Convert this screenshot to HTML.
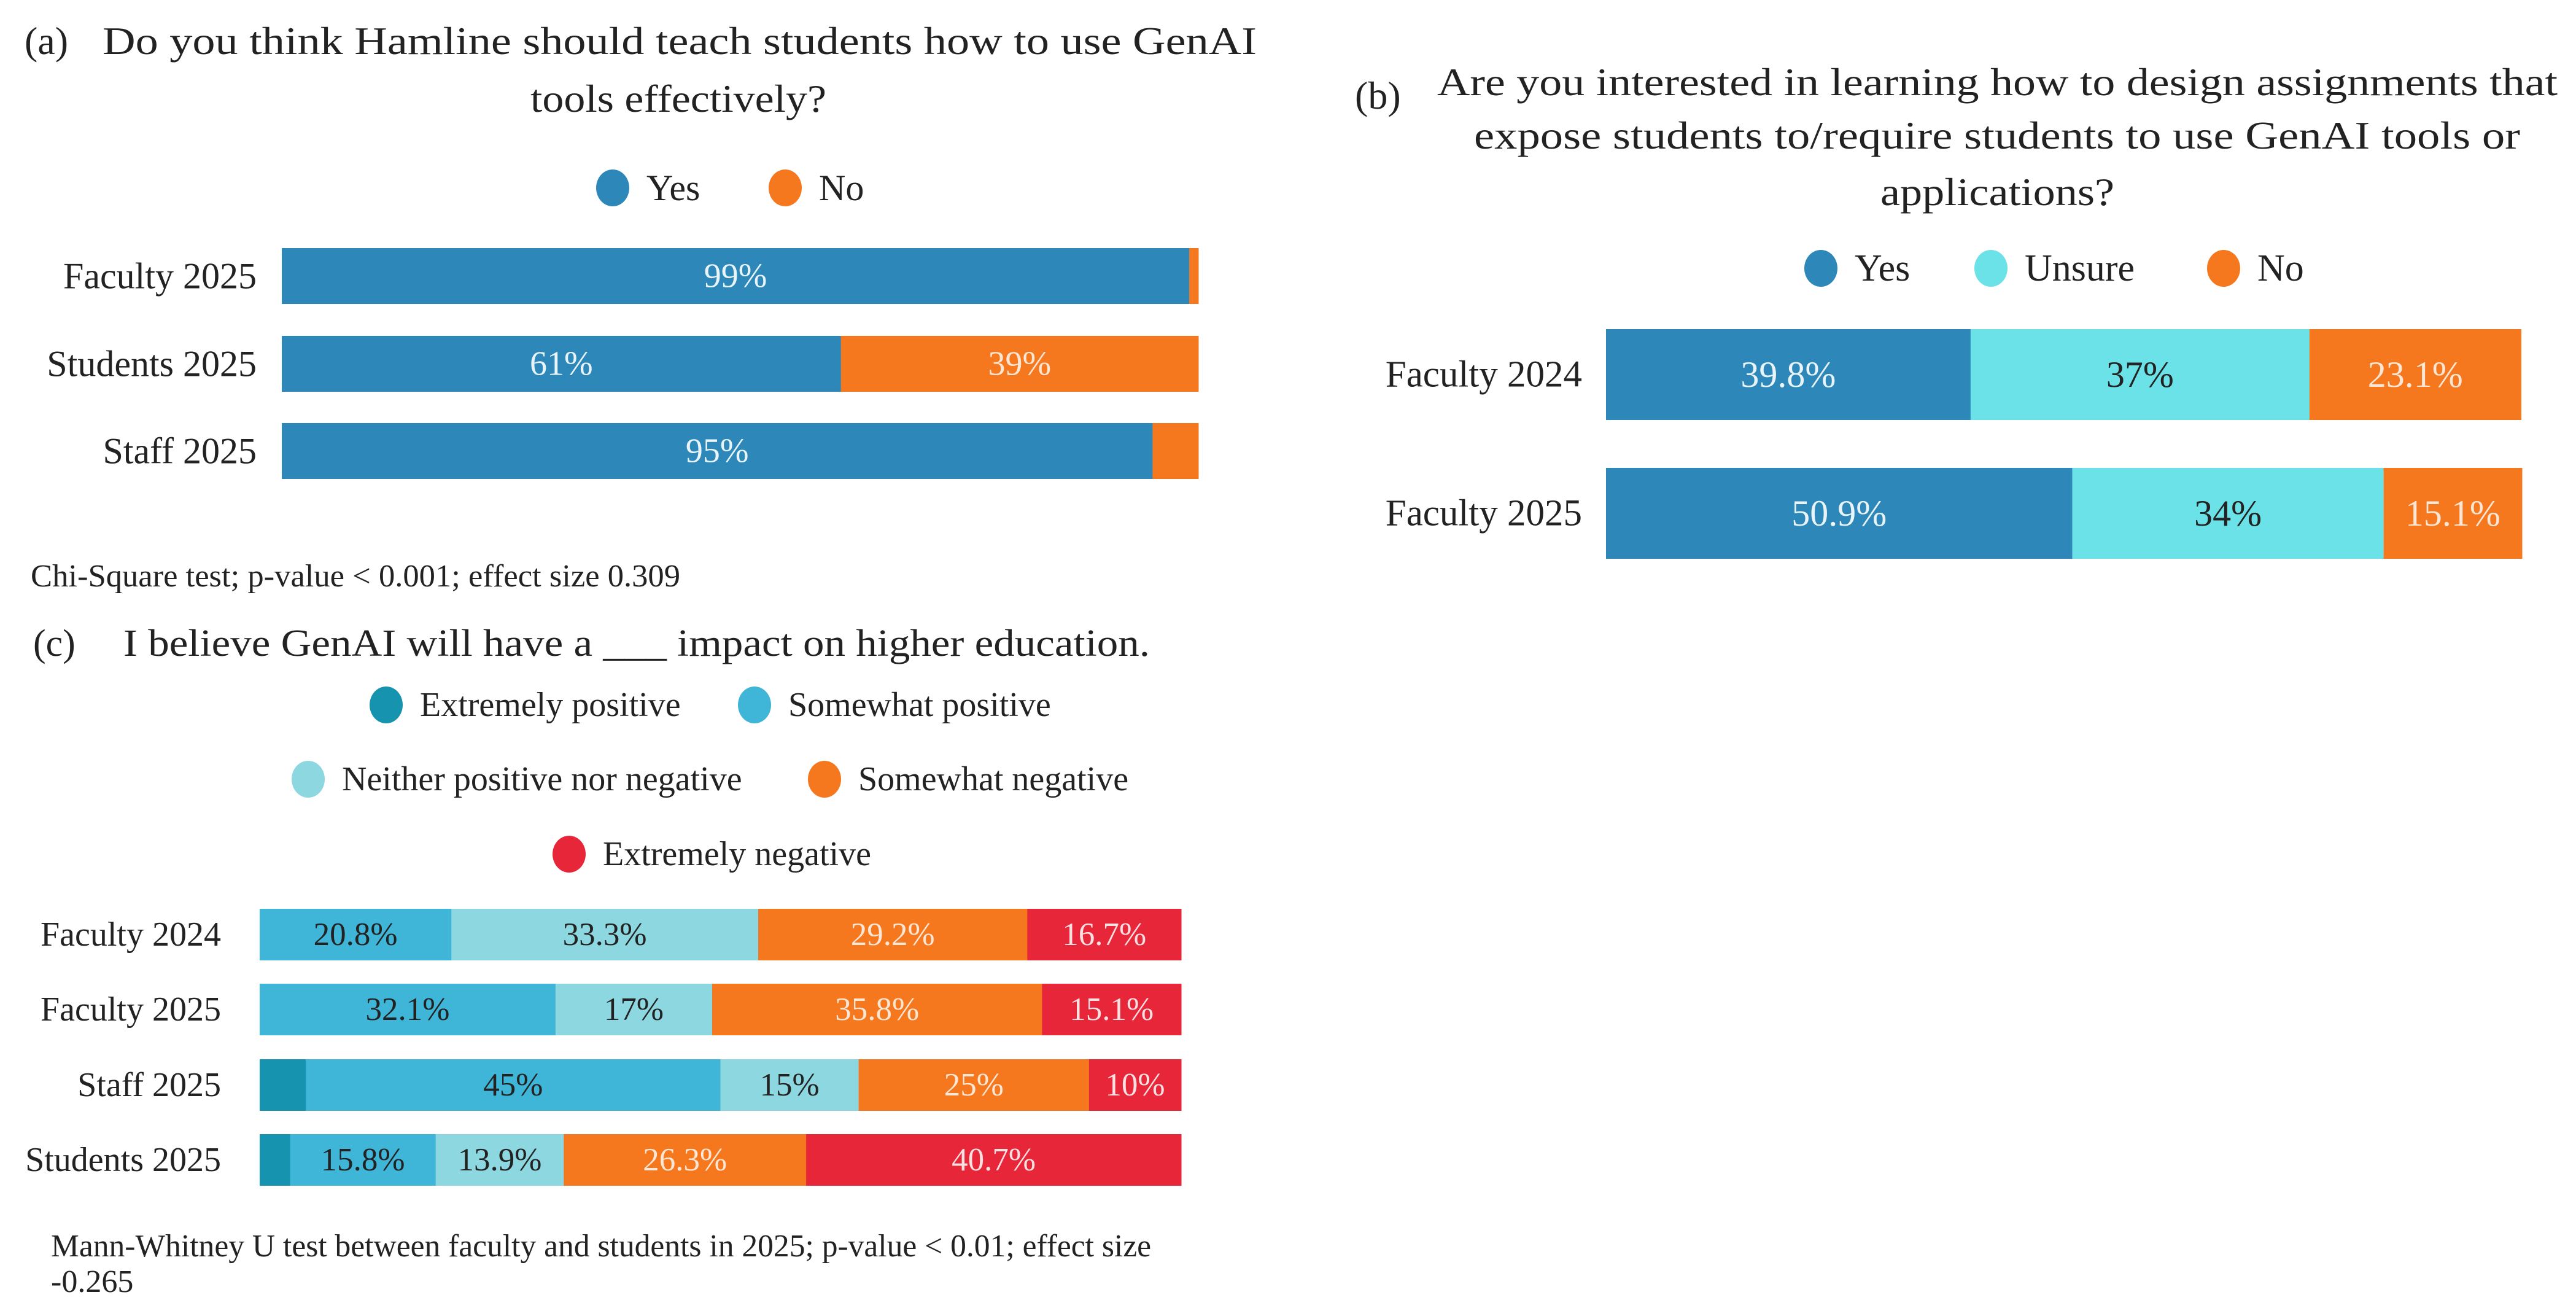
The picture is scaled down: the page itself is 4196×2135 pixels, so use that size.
<!DOCTYPE html>
<html><head><meta charset="utf-8"><style>
html,body{margin:0;padding:0;background:#fff;}
svg{display:block;font-family:"Liberation Serif",serif;}
</style></head><body>
<svg id="chart" width="4196" height="2135" viewBox="0 0 4196 2135" xmlns="http://www.w3.org/2000/svg">
<g font-size="64" fill="#222">
<text x="40" y="88">(a)</text>
<text x="167" y="88" textLength="1880" lengthAdjust="spacingAndGlyphs">Do you think Hamline should teach students how to use GenAI</text>
<text x="864" y="182" textLength="482" lengthAdjust="spacingAndGlyphs">tools effectively?</text>
</g>
<g font-size="64" fill="#222">
<text x="2207" y="177">(b)</text>
<text x="2341" y="155" textLength="1825" lengthAdjust="spacingAndGlyphs">Are you interested in learning how to design assignments that</text>
<text x="2401" y="242" textLength="1704" lengthAdjust="spacingAndGlyphs">expose students to/require students to use GenAI tools or</text>
<text x="3063" y="334" textLength="381" lengthAdjust="spacingAndGlyphs">applications?</text>
</g>
<g font-size="62" fill="#222">
<text x="54" y="1068">(c)</text>
<text x="201" y="1068" textLength="1672" lengthAdjust="spacingAndGlyphs">I believe GenAI will have a ___ impact on higher education.</text>
</g>
<text x="50" y="955" font-size="52" fill="#222" textLength="1058" lengthAdjust="spacingAndGlyphs">Chi-Square test; p-value &lt; 0.001; effect size 0.309</text>
<text x="83" y="2046" font-size="52" fill="#222" textLength="1792" lengthAdjust="spacingAndGlyphs">Mann-Whitney U test between faculty and students in 2025; p-value &lt; 0.01; effect size</text>
<text x="83" y="2104" font-size="52" fill="#222">-0.265</text>
<g id="plots"></g>
</svg>
<script>
// Panel (a)
const aCategories = ["Faculty 2025", "Students 2025", "Staff 2025"];
const aSeriesNames = ["Yes", "No"];
const aYes = [99, 61, 95];
const aNo = [1, 39, 5];
// Panel (b)
const bCategories = ["Faculty 2024", "Faculty 2025"];
const bSeriesNames = ["Yes", "Unsure", "No"];
const bYes = [39.8, 50.9];
const bUnsure = [37, 34];
const bNo = [23.1, 15.1];
const bLabels = [["39.8%","37%","23.1%"],["50.9%","34%","15.1%"]];
// Panel (c)
const cCategories = ["Faculty 2024", "Faculty 2025", "Staff 2025", "Students 2025"];
const cSeriesNames = ["Extremely positive","Somewhat positive","Neither positive nor negative","Somewhat negative","Extremely negative"];
const cExtPos = [0, 0, 5, 3.3];
const cSomePos = [20.8, 32.1, 45, 15.8];
const cNeither = [33.3, 17, 15, 13.9];
const cSomeNeg = [29.2, 35.8, 25, 26.3];
const cExtNeg = [16.7, 15.1, 10, 40.7];
const cLabels = [["","20.8%","33.3%","29.2%","16.7%"],["","32.1%","17%","35.8%","15.1%"],["","45%","15%","25%","10%"],["","15.8%","13.9%","26.3%","40.7%"]];

const NS = "http://www.w3.org/2000/svg";
const root = document.getElementById("plots");
function mk(tag, attrs, parent){const e=document.createElementNS(NS,tag);for(const k in attrs)e.setAttribute(k,attrs[k]);(parent||root).appendChild(e);return e;}

function drawPanel(cfg){
  const g = mk("g",{});
  
  
  const xs = v => cfg.x0 + v/100*(cfg.x1-cfg.x0);
  cfg.cats.forEach((cat,i)=>{
    const yTop = cfg.yTops[i], h = cfg.barH;
    const lab = mk("text",{x:cfg.labelX,y:yTop+h/2,"dominant-baseline":"central","text-anchor":"end","font-size":cfg.labelFs,fill:"#222"},g);
    lab.textContent = cat;
    
    
    let acc = 0;
    cfg.series.forEach((s,j)=>{
      const v = s[i];
      if(v<=0) return;
      const r = mk("rect",{x:xs(acc),y:yTop,width:xs(acc+v)-xs(acc)+0.5,height:h,fill:cfg.colors[j]},g);
      
      
      const txt = cfg.labels ? cfg.labels[i][j] : (v>=10 ? v+"%" : "");
      if(txt){
        const t = mk("text",{x:(xs(acc)+xs(acc+v))/2,y:yTop+h/2,"dominant-baseline":"central","text-anchor":"middle","font-size":cfg.valFs,fill:cfg.textColors[j]},g);
        t.textContent = txt;
        
        
      }
      acc += v;
    });
  });
  cfg.legend.forEach(L=>{
    const c = mk("ellipse",{cx:L.cx,cy:L.cy,rx:27,ry:30,fill:L.color},g);
    
    
    const t = mk("text",{x:L.cx+55,y:L.cy,"dominant-baseline":"central","font-size":cfg.legFs,fill:"#222"},g);
    t.textContent = L.text;
    
    
  });
}

const BLUE="#2e87b9", ORANGE="#f5781f", CYAN="#6ae2e7";
drawPanel({name:"panel-a-chart",cats:aCategories,series:[aYes,aNo],colors:[BLUE,ORANGE],textColors:["#e8f4f8","#fde6d4"],
  x0:459,x1:1952,yTops:[404,547,689],barH:91,labelX:418,labelFs:60,valFs:56,legFs:60,
  legend:[{cx:998,cy:306,color:BLUE,text:aSeriesNames[0]},{cx:1279,cy:306,color:ORANGE,text:aSeriesNames[1]}]});
drawPanel({name:"panel-b-chart",cats:bCategories,series:[bYes,bUnsure,bNo],colors:[BLUE,CYAN,ORANGE],textColors:["#e8f4f8","#222","#fde6d4"],labels:bLabels,
  x0:2616,x1:4108,yTops:[536,762],barH:148,labelX:2577,labelFs:61,valFs:60,legFs:62,
  legend:[{cx:2966,cy:437,color:BLUE,text:bSeriesNames[0]},{cx:3243,cy:437,color:CYAN,text:bSeriesNames[1]},{cx:3622,cy:437,color:ORANGE,text:bSeriesNames[2]}]});
drawPanel({name:"panel-c-chart",cats:cCategories,series:[cExtPos,cSomePos,cNeither,cSomeNeg,cExtNeg],colors:["#1693ae","#3fb5d7","#8dd7e0",ORANGE,"#e8263a"],textColors:["#222","#222","#222","#fde6d4","#fbe0e2"],labels:cLabels,
  x0:423,x1:1924,yTops:[1480,1602,1725,1847],barH:84,labelX:360,labelFs:56,valFs:53,legFs:56,
  legend:[{cx:629,cy:1148,color:"#1693ae",text:cSeriesNames[0]},{cx:1229,cy:1148,color:"#3fb5d7",text:cSeriesNames[1]},
          {cx:502,cy:1269,color:"#8dd7e0",text:cSeriesNames[2]},{cx:1343,cy:1269,color:ORANGE,text:cSeriesNames[3]},
          {cx:927,cy:1391,color:"#e8263a",text:cSeriesNames[4]}]});
</script>
</body></html>
